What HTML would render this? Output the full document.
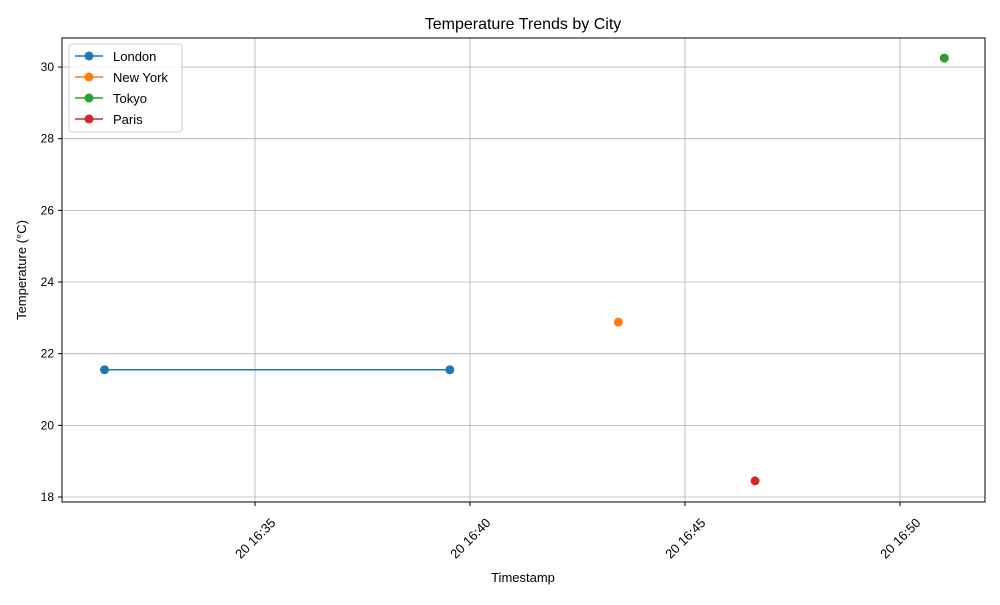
<!DOCTYPE html>
<html><head><meta charset="utf-8"><style>
body{margin:0;background:#fff;font-family:"Liberation Sans","DejaVu Sans",sans-serif}
</style></head><body>
<svg id="chart" width="1000" height="600" xmlns="http://www.w3.org/2000/svg">
<rect width="1000" height="600" fill="#fff"/>
<text x="523" y="29" text-anchor="middle" font-size="16">Temperature Trends by City</text>
<g id="grid"></g>
<g id="series"></g>
<rect x="62" y="38" width="923" height="464" fill="none" stroke="#000" stroke-width="1"/>
<g id="axes" font-size="12"></g>
<text x="523" y="582" text-anchor="middle" font-size="13">Timestamp</text>
<text transform="translate(26,270) rotate(-90)" text-anchor="middle" font-size="13">Temperature (°C)</text>
<g id="legend"></g>
</svg>
<script>
// minutes after 16:30
const cities=["London","New York","Tokyo","Paris"];
const colors=["#1f77b4","#ff7f0e","#2ca02c","#d62728"];
const londonX=[1.5,9.53];
const londonY=[21.55,21.55];
const newYorkX=[13.45];
const newYorkY=[22.88];
const tokyoX=[21.03];
const tokyoY=[30.25];
const parisX=[16.63];
const parisY=[18.45];
const xTicks=[5,10,15,20];
const xTickLabels=["20 16:35","20 16:40","20 16:45","20 16:50"];
const yTicks=[18,20,22,24,26,28,30];

const NS="http://www.w3.org/2000/svg";
const X=m=>255+(m-5)*43;
const Y=v=>497-(v-18)*35.83;
function mk(tag,attrs,parent){const e=document.createElementNS(NS,tag);for(const k in attrs)e.setAttribute(k,attrs[k]);parent.appendChild(e);return e;}
const grid=document.getElementById('grid'),axes=document.getElementById('axes'),ser=document.getElementById('series'),leg=document.getElementById('legend');
xTicks.forEach((t,i)=>{const x=X(t);
 let g=mk('line',{x1:x,x2:x,y1:38,y2:502,stroke:'#b0b0b0','stroke-width':0.8},grid);
 
 
 let tk=mk('line',{x1:x,x2:x,y1:502,y2:506,stroke:'#000'},axes);
 
 
 let tx=mk('text',{x:x,y:543,'text-anchor':'middle','font-size':13,transform:`rotate(-45 ${x} 538)`},axes);
 tx.textContent=xTickLabels[i];
 
 
});
yTicks.forEach(t=>{const y=Y(t);
 let g=mk('line',{x1:62,x2:985,y1:y,y2:y,stroke:'#b0b0b0','stroke-width':0.8},grid);
 
 
 let tk=mk('line',{x1:58,x2:62,y1:y,y2:y,stroke:'#000'},axes);
 
 
 let tx=mk('text',{x:54,y:y+4,'text-anchor':'end'},axes);
 tx.textContent=t;
 
 
});
const data=[[londonX,londonY],[newYorkX,newYorkY],[tokyoX,tokyoY],[parisX,parisY]];
data.forEach((d,i)=>{const [xs,ys]=d;
 const pts=xs.map((x,j)=>X(x)+','+Y(ys[j])).join(' ');
 let pl=mk('polyline',{points:pts,fill:'none',stroke:colors[i],'stroke-width':1.5},ser);
 
 
 xs.forEach((x,j)=>{let c=mk('circle',{cx:X(x),cy:Y(ys[j]),r:4.5,fill:colors[i]},ser);
  
  });
});
let box=mk('rect',{x:69,y:44,width:113,height:88,rx:3,fill:'#fff','fill-opacity':0.8,stroke:'#ccc'},leg);


cities.forEach((c,i)=>{const y=56+i*21;
 let g=mk('g',{},leg);
 
 
 mk('line',{x1:75,x2:103,y1:y,y2:y,stroke:colors[i],'stroke-width':1.5},g);
 mk('circle',{cx:89,cy:y,r:4.5,fill:colors[i]},g);
 let t=mk('text',{x:113,y:y+5,'font-size':13},g);t.textContent=c;
});
</script>
</body></html>
